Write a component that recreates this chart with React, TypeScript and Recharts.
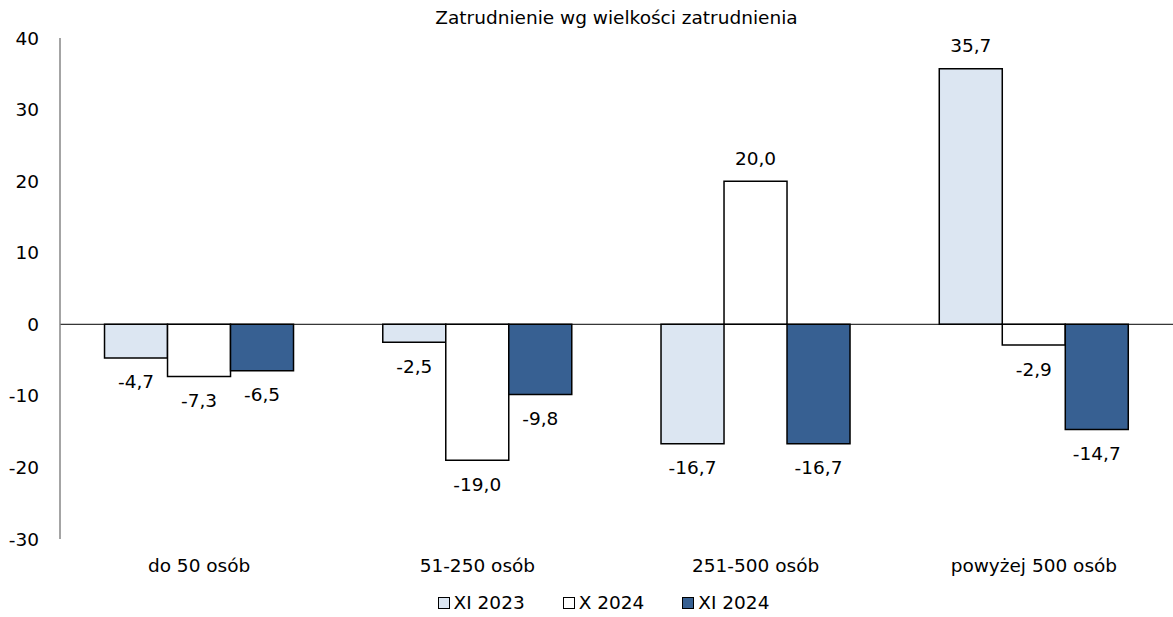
import React from 'react';
import { BarChart, Bar, XAxis, YAxis, ReferenceLine, Legend, LabelList } from 'recharts';

const categories = ['do 50 osób', '51-250 osób', '251-500 osób', 'powyżej 500 osób'];
const xi2023 = [-4.7, -2.5, -16.7, 35.7];
const x2024 = [-7.3, -19.0, 20.0, -2.9];
const xi2024 = [-6.5, -9.8, -16.7, -14.7];
const yTicks = [-30, -20, -10, 0, 10, 20, 30, 40];
const seriesNames = ['XI 2023', 'X 2024', 'XI 2024'];
const title = 'Zatrudnienie wg wielkości zatrudnienia';

const data = categories.map((c, i) => ({ name: c, a: xi2023[i], b: x2024[i], c: xi2024[i] }));

const FONT = '"DejaVu Sans", Verdana, sans-serif';
const FS = 18.5;

const fmt = (v: number) => v.toFixed(1).replace('.', ',');

const renderLabel = (props: any) => {
  const { x, y, width, height, value } = props;
  const top = Math.min(y, y + height);
  const bottom = Math.max(y, y + height);
  const cx = x + width / 2;
  const ty = value >= 0 ? top - 23 : bottom + 24;
  return (
    <text x={cx} y={ty} textAnchor="middle" dominantBaseline="central" fontSize={FS} fontFamily={FONT} fill="#000">
      {fmt(value)}
    </text>
  );
};

const colors = ['#DCE6F2', '#FFFFFF', '#376092'];

const renderLegend = () => (
  <div style={{ display: 'flex', justifyContent: 'center', fontFamily: FONT, fontSize: FS, color: '#000', lineHeight: '22px' }}>
    {seriesNames.map((n, i) => (
      <div key={n} style={{ display: 'flex', alignItems: 'center', marginRight: i < 2 ? 38 : 0 }}>
        <span style={{ display: 'inline-block', width: 10, height: 10, border: '1px solid #000', background: colors[i], marginRight: 4 }} />
        <span>{n}</span>
      </div>
    ))}
  </div>
);

export default function App() {
  return (
    <div style={{ position: 'absolute', left: 0, top: 0, width: 1173, height: 617, background: '#fff' }}>
      <div style={{ position: 'absolute', top: 7, left: 60, width: 1113, textAlign: 'center', fontFamily: FONT, fontSize: FS, color: '#000', lineHeight: '22px' }}>
        {title}
      </div>
      <BarChart width={1173} height={617} data={data} margin={{ top: 38, right: 0, bottom: 48, left: 0 }} barCategoryGap="16%" barGap={0}>
        <YAxis
          domain={[-30, 40]}
          ticks={yTicks}
          interval={0}
          width={60}
          axisLine={{ stroke: '#868686', strokeWidth: 1.5 }}
          tickLine={false}
          tickSize={0}
          tickMargin={21}
          tick={{ fontSize: FS, fontFamily: FONT, fill: '#000' }}
        />
        <XAxis
          dataKey="name"
          axisLine={false}
          tickLine={false}
          tickSize={0}
          tickMargin={20}
          height={30}
          tick={{ fontSize: FS, fontFamily: FONT, fill: '#000' }}
        />
        <ReferenceLine y={0} stroke="#000" strokeWidth={1} />
        <Legend layout="horizontal" verticalAlign="middle" align="center" content={renderLegend} wrapperStyle={{ top: 592, left: 17, width: 1173 }} />
        <Bar dataKey="a" name={seriesNames[0]} fill={colors[0]} stroke="#000" strokeWidth={1.5} isAnimationActive={false}>
          <LabelList dataKey="a" content={renderLabel} />
        </Bar>
        <Bar dataKey="b" name={seriesNames[1]} fill={colors[1]} stroke="#000" strokeWidth={1.5} isAnimationActive={false}>
          <LabelList dataKey="b" content={renderLabel} />
        </Bar>
        <Bar dataKey="c" name={seriesNames[2]} fill={colors[2]} stroke="#000" strokeWidth={1.5} isAnimationActive={false}>
          <LabelList dataKey="c" content={renderLabel} />
        </Bar>
      </BarChart>
    </div>
  );
}
